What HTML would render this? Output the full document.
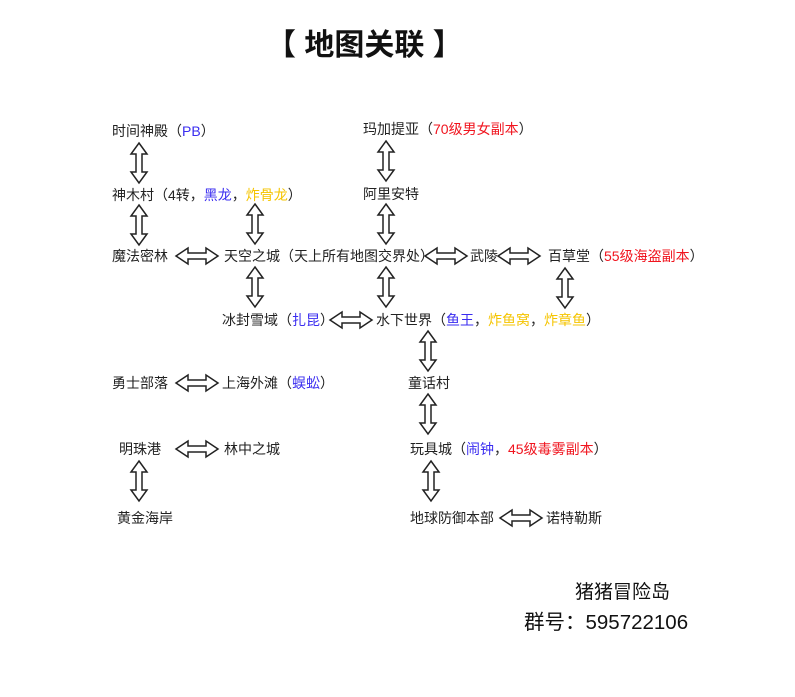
<!DOCTYPE html>
<html><head><meta charset="utf-8"><style>
body{margin:0;width:795px;height:697px;background:#fff;position:relative;overflow:hidden;font-family:"Liberation Sans","Noto Sans CJK SC",sans-serif;color:#222}
.t{position:absolute;font-size:14px;line-height:16px;white-space:nowrap}
.b{color:#3a2cf0}.r{color:#f0141e}.y{color:#f5c400}
svg{position:absolute;left:0;top:0}
</style></head><body>
<div class="t" style="left:266px;top:28px;font-size:30px;line-height:36px;font-weight:bold;color:#111">【 地图关联 】</div>

<div class="t" style="left:112px;top:123px">时间神殿（<span class="b">PB</span>）</div>
<div class="t" style="left:112px;top:187px">神木村（4转，<span class="b">黑龙</span>，<span class="y">炸骨龙</span>）</div>
<div class="t" style="left:112px;top:248px">魔法密林</div>
<div class="t" style="left:224px;top:248px">天空之城（天上所有地图交界处）</div>
<div class="t" style="left:222px;top:312px">冰封雪域（<span class="b">扎昆</span>）</div>
<div class="t" style="left:376px;top:312px">水下世界（<span class="b">鱼王</span>，<span class="y">炸鱼窝</span>，<span class="y">炸章鱼</span>）</div>
<div class="t" style="left:363px;top:121px">玛加提亚（<span class="r">70级男女副本</span>）</div>
<div class="t" style="left:363px;top:186px">阿里安特</div>
<div class="t" style="left:470px;top:248px">武陵</div>
<div class="t" style="left:548px;top:248px">百草堂（<span class="r">55级海盗副本</span>）</div>
<div class="t" style="left:112px;top:375px">勇士部落</div>
<div class="t" style="left:222px;top:375px">上海外滩（<span class="b">蜈蚣</span>）</div>
<div class="t" style="left:408px;top:375px">童话村</div>
<div class="t" style="left:119px;top:441px">明珠港</div>
<div class="t" style="left:224px;top:441px">林中之城</div>
<div class="t" style="left:410px;top:441px">玩具城（<span class="b">闹钟</span>，<span class="r">45级毒雾副本</span>）</div>
<div class="t" style="left:117px;top:510px">黄金海岸</div>
<div class="t" style="left:410px;top:510px">地球防御本部</div>
<div class="t" style="left:546px;top:510px">诺特勒斯</div>
<div class="t" style="left:575px;top:582px;font-size:19px;line-height:22px;color:#111">猪猪冒险岛</div>
<div class="t" style="left:524px;top:611px;font-size:20.5px;line-height:24px;color:#111">群号：595722106</div>

<svg width="795" height="697">
<defs>
<polygon id="v" points="0,0 8,11 3,11 3,29 8,29 0,40 -8,29 -3,29 -3,11 -8,11" fill="#fff" stroke="#222" stroke-width="1.5" stroke-linejoin="miter"/>
<polygon id="h" points="0,0 12,-8 12,-3 30,-3 30,-8 42,0 30,8 30,3 12,3 12,8" fill="#fff" stroke="#222" stroke-width="1.5"/>
</defs>
<use href="#v" x="139" y="143"/>
<use href="#v" x="139" y="205"/>
<use href="#v" x="255" y="204"/>
<use href="#v" x="255" y="267"/>
<use href="#v" x="386" y="141"/>
<use href="#v" x="386" y="204"/>
<use href="#v" x="386" y="267"/>
<use href="#v" x="565" y="268"/>
<use href="#v" x="428" y="331"/>
<use href="#v" x="428" y="394"/>
<use href="#v" x="431" y="461"/>
<use href="#v" x="139" y="461"/>
<use href="#h" x="176" y="256"/>
<use href="#h" x="425" y="256"/>
<use href="#h" x="498" y="256"/>
<use href="#h" x="330" y="320"/>
<use href="#h" x="176" y="383"/>
<use href="#h" x="176" y="449"/>
<use href="#h" x="500" y="518"/>
</svg>
</body></html>
